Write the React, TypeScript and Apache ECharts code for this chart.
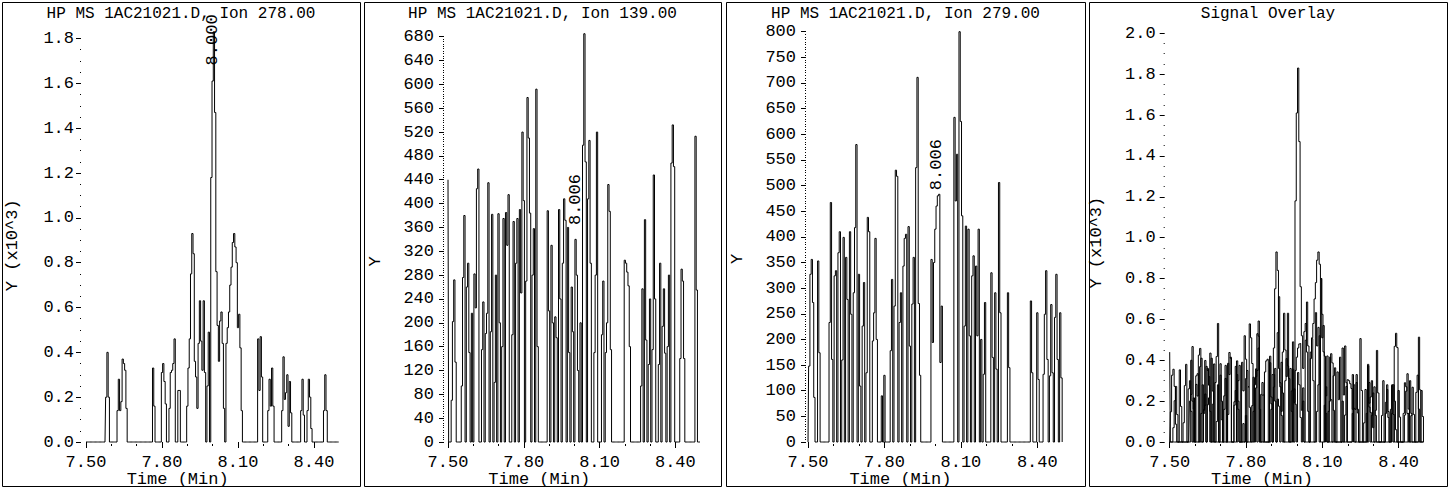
import React, { useEffect, useRef } from "react";
import * as echarts from "echarts";

// ---------------- data ----------------
// sampling grid of the chromatogram (minutes)
const T_START = 7.5;
const T_STEP = 0.005;

// Ion 278.00 abundance (x10^3)
const ion278 = [
  0, 0, 0, 0, 0, 0, 0, 0, 0, 0,
  0, 0, 0, 0, 0, 0, 0.2, 0.4, 0.2, 0,
  0, 0, 0, 0, 0, 0.14, 0.28, 0.14, 0.18, 0.37,
  0.35, 0.32, 0.15, 0, 0, 0, 0, 0, 0, 0,
  0, 0, 0, 0, 0, 0, 0, 0, 0, 0,
  0, 0, 0, 0.33, 0.16, 0, 0, 0, 0, 0,
  0.31, 0.35, 0.27, 0.17, 0, 0, 0.15, 0.31, 0.32, 0.35,
  0.46, 0, 0, 0.23, 0.23, 0, 0, 0, 0, 0,
  0.16, 0.33, 0.46, 0.75, 0.93, 0.84, 0.36, 0.29, 0.15, 0.44,
  0.63, 0.45, 0.32, 0.63, 0.31, 0, 0.25, 0.49, 0, 1.18,
  1.61, 1.83, 1.47, 0.76, 0.52, 0.36, 0.54, 0.58, 0.44, 0.15,
  0, 0.44, 0.51, 0.58, 0.7, 0.78, 0.89, 0.93, 0.87, 0.8,
  0.51, 0.57, 0.42, 0.14, 0, 0, 0, 0, 0, 0,
  0, 0, 0, 0, 0, 0, 0.46, 0.23, 0.47, 0.29,
  0, 0, 0, 0, 0.14, 0.28, 0.16, 0.33, 0.16, 0,
  0, 0, 0, 0, 0, 0.14, 0.38, 0.19, 0.22, 0.3,
  0.07, 0.27, 0.13, 0, 0, 0, 0, 0, 0, 0,
  0.14, 0.28, 0.12, 0, 0, 0.14, 0.28, 0.2, 0.06, 0,
  0, 0, 0, 0, 0, 0, 0, 0, 0.14, 0.3,
  0.14, 0, 0, 0, 0, 0, 0, 0, 0, 0,
  0,
];

// Ion 139.00 abundance
const ion139 = [
  440, 0, 0, 70, 202, 272, 134, 0, 0, 0,
  0, 94, 276, 380, 0, 260, 300, 150, 0, 216,
  0, 282, 225, 425, 458, 0, 0, 155, 235, 0,
  182, 216, 435, 0, 185, 382, 0, 100, 280, 0,
  383, 200, 0, 160, 375, 0, 385, 330, 415, 0,
  0, 180, 370, 0, 300, 375, 0, 390, 250, 520,
  405, 0, 270, 578, 510, 384, 0, 280, 358, 0,
  592, 160, 0, 0, 0, 0, 0, 0, 0, 388,
  220, 0, 330, 200, 0, 210, 175, 0, 390, 240,
  0, 300, 408, 372, 0, 360, 150, 0, 260, 185,
  0, 340, 280, 120, 0, 200, 0, 498, 685, 470,
  0, 408, 506, 300, 0, 0, 150, 280, 520, 0,
  0, 0, 180, 270, 0, 150, 200, 432, 387, 155,
  0, 0, 0, 0, 0, 0, 0, 0, 0, 0,
  305, 300, 285, 262, 160, 0, 0, 0, 0, 0,
  0, 0, 0, 94, 257, 0, 373, 171, 0, 130,
  240, 0, 155, 448, 240, 0, 0, 130, 300, 0,
  194, 257, 149, 0, 160, 280, 0, 468, 532, 462,
  0, 0, 0, 0, 140, 290, 270, 140, 0, 0,
  0, 0, 0, 0, 0, 0, 513, 255, 0, 0,
  0,
];

// Ion 279.00 abundance
const ion279 = [
  0, 148, 327, 356, 272, 87, 0, 0, 353, 174,
  0, 0, 0, 0, 0, 0, 0, 233, 467, 161,
  0, 324, 334, 0, 369, 410, 0, 160, 399, 0,
  360, 278, 0, 410, 249, 0, 291, 418, 580, 0,
  327, 109, 0, 226, 311, 0, 135, 438, 410, 0,
  0, 197, 252, 397, 200, 0, 0, 0, 90, 0,
  130, 0, 0, 0, 0, 178, 317, 0, 265, 530,
  518, 0, 233, 291, 0, 343, 397, 405, 0, 420,
  187, 0, 269, 360, 0, 535, 711, 270, 130, 0,
  0, 0, 0, 0, 0, 0, 0, 356, 194, 350,
  415, 460, 480, 483, 155, 265, 0, 0, 0, 0,
  0, 0, 0, 0, 0, 633, 470, 561, 0, 800,
  625, 441, 0, 226, 421, 0, 415, 207, 0, 324,
  363, 0, 343, 207, 415, 0, 200, 0, 132, 272,
  0, 0, 0, 0, 330, 165, 0, 291, 142, 0,
  506, 252, 0, 0, 0, 0, 0, 291, 145, 0,
  0, 0, 0, 0, 0, 0, 0, 0, 0, 0,
  0, 0, 0, 0, 0, 275, 135, 0, 0, 0,
  252, 122, 0, 0, 0, 132, 249, 334, 161, 0,
  129, 268, 135, 0, 243, 327, 161, 0, 252, 125,
  0,
];

const titles = [
  "HP MS 1AC21021.D, Ion 278.00",
  "HP MS 1AC21021.D, Ion 139.00",
  "HP MS 1AC21021.D, Ion 279.00",
  "Signal Overlay",
];
const yNames = ["Y (x10^3)", "Y", "Y", "Y (x10^3)"];
const yMaxes = [1.8, 680, 800, 2.0];
const yIntervals = [0.2, 40, 50, 0.2];
const yDecimals = [1, 0, 0, 1];
const xMajorTicks = [7.5, 7.8, 8.1, 8.4];
const xMinorTicks = [7.6, 7.7, 7.9, 8.0, 8.2, 8.3];
const xAxisName = "Time (Min)";
const peakTimes = [8.0, 8.006, 8.006];
const peakTexts = ["8.000", "8.006", "8.006"];

// ---------------- layout ----------------
const FONT = '"Liberation Mono", "DejaVu Sans Mono", monospace';
const FS = 17;
const boxX = [
  [2, 360],
  [364, 721],
  [726, 1085],
  [1089, 1447],
];
const gridLeft = [86, 448, 808, 1169.7];
const gridWidth = [253.3, 252.6, 254.8, 254.4];
const gridTop = [38.5, 36.7, 31.7, 33.3];
const GRID_BOTTOM = 442;
const yOffset = [5, 4, 2, 5];
const yLabelMargin = [7, 10, 10, 9];
const yMinorSplit = [4, 10, 10, 4];
const yNamePad = [
  [0, 10, 0, 0],
  [0, 44, 0, 0],
  [0, 44, 0, 0],
  [0, 10, 0, 0],
];
const peakLabelY = [1.68, 364, 491];

export default function App() {
  const ref = useRef<HTMLDivElement>(null);

  useEffect(() => {
    if (!ref.current) return;
    const chart = echarts.init(ref.current, null, { renderer: "svg" });
    const times = ion278.map((_, i) => +(T_START + i * T_STEP).toFixed(3));
    const pairs = (vals: number[], scale = 1) =>
      vals.map((v, i) => [times[i], +(v * scale).toFixed(4)]);
    const txt = { color: "#000", fontFamily: FONT, fontSize: FS, fontWeight: "normal" as const };
    const panels = [0, 1, 2, 3];

    const grid = panels.map((k) => ({
      left: gridLeft[k],
      top: gridTop[k],
      width: gridWidth[k],
      height: GRID_BOTTOM - gridTop[k],
      containLabel: false,
      outerBoundsMode: "none",
    }));

    const xAxis: any[] = [];
    panels.forEach((k) => {
      xAxis.push({
        type: "value",
        gridIndex: k,
        position: "bottom",
        min: 7.5,
        max: 8.5,
        offset: 2,
        axisLine: { show: false },
        splitLine: { show: false },
        axisTick: { show: true, customValues: xMajorTicks, length: 6, lineStyle: { color: "#000", width: 1 } },
        axisLabel: {
          customValues: xMajorTicks,
          formatter: (v: number) => v.toFixed(2),
          margin: 12,
          lineHeight: 12,
          ...txt,
        },
        name: xAxisName,
        nameLocation: "middle",
        nameGap: 29,
        nameMoveOverlap: false,
        nameTextStyle: { ...txt, lineHeight: 12, padding: [0, 70, 0, 0] },
      });
      xAxis.push({
        type: "value",
        gridIndex: k,
        position: "bottom",
        min: 7.5,
        max: 8.5,
        offset: 2,
        axisLine: { show: false },
        splitLine: { show: false },
        axisLabel: { show: false },
        axisTick: { show: true, customValues: xMinorTicks, length: 2, lineStyle: { color: "#000", width: 1 } },
      });
    });

    const yAxis = panels.map((k) => ({
      type: "value",
      gridIndex: k,
      position: "left",
      min: 0,
      max: yMaxes[k],
      interval: yIntervals[k],
      offset: yOffset[k],
      axisLine: { show: false },
      splitLine: { show: false },
      axisTick: { show: true, length: 5, lineStyle: { color: "#000", width: 1 } },
      minorTick: { show: true, splitNumber: yMinorSplit[k], length: 1, lineStyle: { color: "#000", width: 1 } },
      minorSplitLine: { show: false },
      axisLabel: {
        formatter: (v: number) => v.toFixed(yDecimals[k]),
        margin: yLabelMargin[k],
        lineHeight: 12,
        ...txt,
      },
      name: yNames[k],
      nameLocation: "middle",
      nameGap: 60,
      nameRotate: 90,
      nameMoveOverlap: false,
      nameTextStyle: { ...txt, padding: yNamePad[k] },
    }));

    const lineBase = {
      type: "line",
      step: "middle",
      showSymbol: false,
      symbol: "none",
      clip: false,
      silent: true,
      lineStyle: { color: "#000", width: 1 },
      itemStyle: { color: "#000" },
    };

    const singles = [ion278, ion139, ion279];
    const series: any[] = singles.map((vals, k) => ({
      ...lineBase,
      name: titles[k],
      xAxisIndex: 2 * k,
      yAxisIndex: k,
      data: pairs(vals),
      markPoint: {
        symbol: "circle",
        symbolSize: 1,
        silent: true,
        itemStyle: { color: "transparent" },
        label: {
          show: true,
          position: "inside",
          rotate: 90,
          align: "left",
          verticalAlign: "middle",
          formatter: peakTexts[k],
          ...txt,
        },
        data: [{ coord: [peakTimes[k], peakLabelY[k]] }],
      },
    }));
    series.push(
      { ...lineBase, name: "Ion 139.00 overlay", xAxisIndex: 6, yAxisIndex: 3, data: pairs(ion139, 0.001) },
      { ...lineBase, name: "Ion 279.00 overlay", xAxisIndex: 6, yAxisIndex: 3, data: pairs(ion279, 0.001) },
      { ...lineBase, name: "Ion 278.00 overlay", xAxisIndex: 6, yAxisIndex: 3, data: pairs(ion278) }
    );

    chart.setOption({
      animation: false,
      backgroundColor: "#fff",
      title: panels.map((k) => ({
        text: titles[k],
        left: (boxX[k][0] + boxX[k][1]) / 2,
        top: 6,
        textAlign: "center",
        padding: 0,
        textStyle: { ...txt, fontSize: 16, lineHeight: 16 },
      })),
      grid,
      xAxis,
      yAxis,
      series,
      graphic: panels.map((k) => ({
        type: "rect",
        silent: true,
        shape: { x: boxX[k][0] + 0.5, y: 2.5, width: boxX[k][1] - boxX[k][0], height: 484 },
        style: { fill: "none", stroke: "#000", lineWidth: 1 },
      })),
    });

    return () => chart.dispose();
  }, []);

  return (
    <div
      ref={ref}
      style={{ position: "absolute", left: 0, top: 0, width: 1453, height: 490, background: "#fff" }}
    />
  );
}
